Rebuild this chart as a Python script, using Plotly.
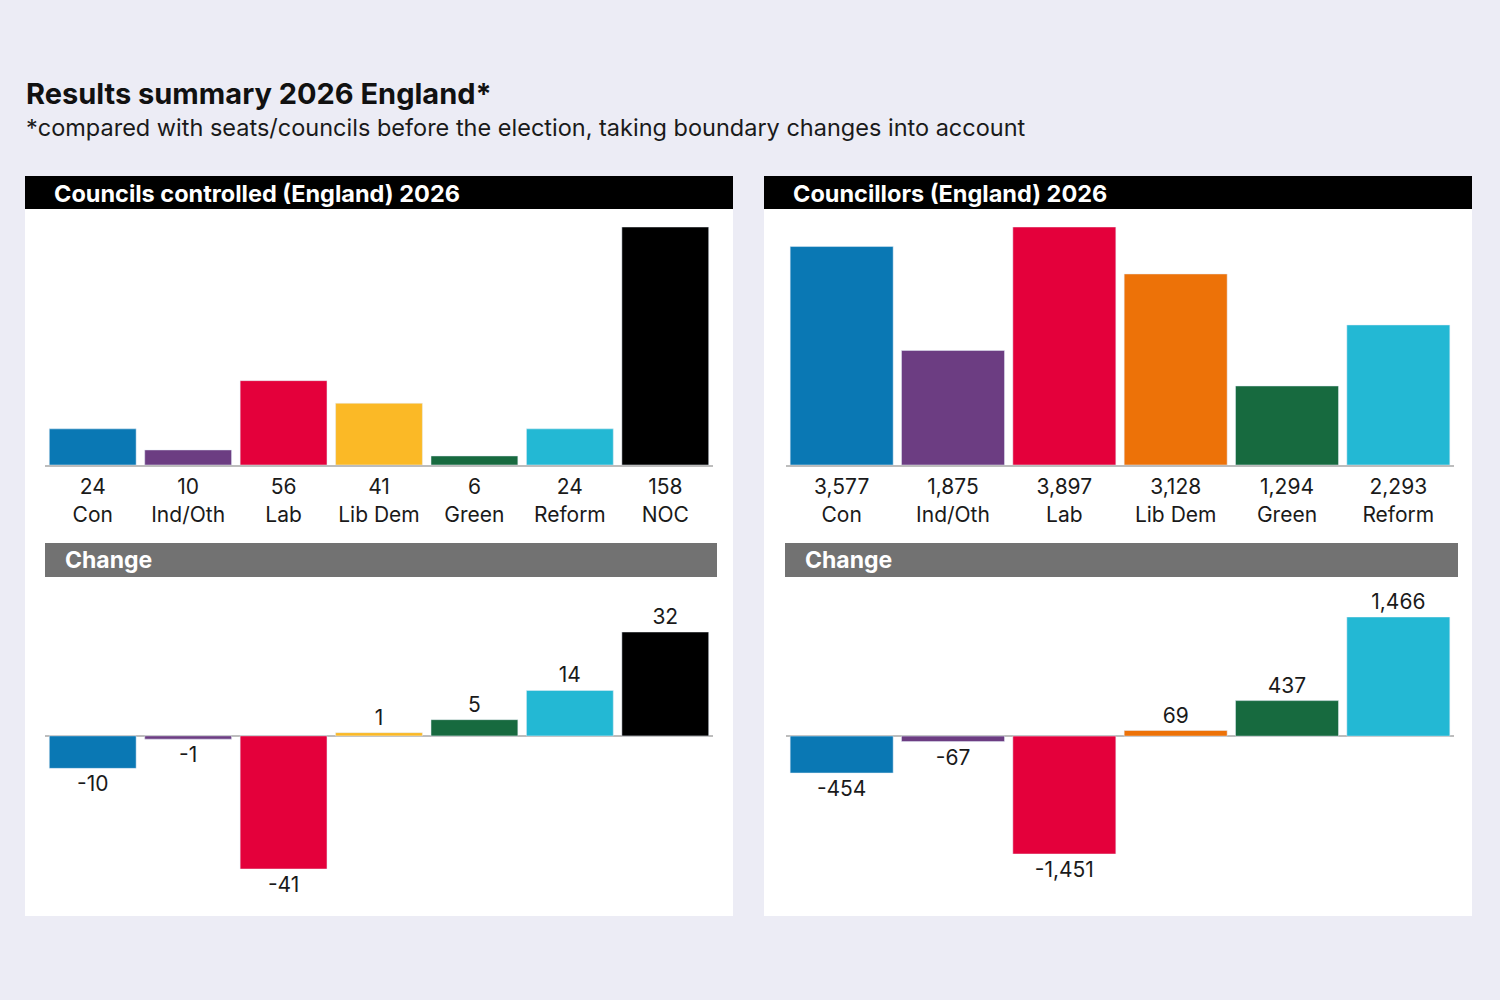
import plotly.graph_objects as go

# ---------------- data ----------------
council_parties = ["Con", "Ind/Oth", "Lab", "Lib Dem", "Green", "Reform", "NOC"]
council_totals = [24, 10, 56, 41, 6, 24, 158]
council_change = [-10, -1, -41, 1, 5, 14, 32]
council_colors = ["#0A78B4", "#6C3D82", "#E4003B", "#FBB926", "#176A3F", "#23B8D4", "#000000"]

cllr_parties = ["Con", "Ind/Oth", "Lab", "Lib Dem", "Green", "Reform"]
cllr_totals = [3577, 1875, 3897, 3128, 1294, 2293]
cllr_change = [-454, -67, -1451, 69, 437, 1466]
cllr_colors = ["#0A78B4", "#6C3D82", "#E4003B", "#ED7208", "#176A3F", "#23B8D4"]

title = "Results summary 2026 England*"
subtitle = "*compared with seats/councils before the election, taking boundary changes into account"
left_header = "Councils controlled (England) 2026"
right_header = "Councillors (England) 2026"
change_label = "Change"

FONT = "Inter"
W, H = 1500, 1000
BG = "#ECECF5"
AXIS_GREY = "#BDBDBD"


def px_x(x):
    return x / W


def px_y(y):
    return 1 - y / H


def fmt(v):
    return f"{v:,}"


fig = go.Figure()

# top-left: councils
fig.add_trace(go.Bar(x=council_parties, y=council_totals, marker_color=council_colors,
                     width=0.91, xaxis="x", yaxis="y", hoverinfo="skip"))
# bottom-left: councils change
fig.add_trace(go.Bar(x=council_parties, y=council_change, marker_color=council_colors,
                     width=0.91, xaxis="x2", yaxis="y2",
                     text=[fmt(v) for v in council_change], textposition="outside",
                     cliponaxis=False, constraintext="none",
                     textfont=dict(family=FONT, size=21, color="#1a1a1a"), hoverinfo="skip"))
# top-right: councillors
fig.add_trace(go.Bar(x=cllr_parties, y=cllr_totals, marker_color=cllr_colors,
                     width=0.925, xaxis="x3", yaxis="y3", hoverinfo="skip"))
# bottom-right: councillors change
fig.add_trace(go.Bar(x=cllr_parties, y=cllr_change, marker_color=cllr_colors,
                     width=0.925, xaxis="x4", yaxis="y4",
                     text=[fmt(v) for v in cllr_change], textposition="outside",
                     cliponaxis=False, constraintext="none",
                     textfont=dict(family=FONT, size=21, color="#1a1a1a"), hoverinfo="skip"))

left_dom = [px_x(45), px_x(713)]
right_dom = [px_x(786), px_x(1454)]
top_dom = [px_y(465), px_y(227)]
bl_dom = [px_y(869), px_y(632)]
br_dom = [px_y(854), px_y(617)]

tickfont = dict(family=FONT, size=21, color="#1a1a1a")


def top_x(dom, parties, totals, anchor):
    return dict(domain=dom, anchor=anchor, showgrid=False, zeroline=False,
                showline=True, linecolor=AXIS_GREY, linewidth=2,
                tickmode="array", tickvals=parties,
                ticktext=[f"{fmt(v)}<br>{p}" for p, v in zip(parties, totals)],
                ticks="", ticklabelstandoff=2, tickfont=tickfont, fixedrange=True)


def bottom_x(dom, anchor):
    return dict(domain=dom, anchor=anchor, showgrid=False, zeroline=False,
                showline=False, showticklabels=False, ticks="", fixedrange=True)


fig.update_layout(
    width=W, height=H,
    margin=dict(l=0, r=0, t=0, b=0),
    paper_bgcolor=BG, plot_bgcolor="rgba(0,0,0,0)",
    showlegend=False,
    font=dict(family=FONT, color="#1a1a1a"),
    xaxis=top_x(left_dom, council_parties, council_totals, "y"),
    yaxis=dict(domain=top_dom, anchor="x", range=[0, max(council_totals)],
               visible=False, fixedrange=True),
    xaxis2=bottom_x(left_dom, "y2"),
    yaxis2=dict(domain=bl_dom, anchor="x2", range=[min(council_change), max(council_change)],
                showgrid=False, showticklabels=False, zeroline=True,
                zerolinecolor=AXIS_GREY, zerolinewidth=2, fixedrange=True),
    xaxis3=top_x(right_dom, cllr_parties, cllr_totals, "y3"),
    yaxis3=dict(domain=top_dom, anchor="x3", range=[0, max(cllr_totals)],
                visible=False, fixedrange=True),
    xaxis4=bottom_x(right_dom, "y4"),
    yaxis4=dict(domain=br_dom, anchor="x4", range=[min(cllr_change), max(cllr_change)],
                showgrid=False, showticklabels=False, zeroline=True,
                zerolinecolor=AXIS_GREY, zerolinewidth=2, fixedrange=True),
)

shapes = []
annotations = []

# panels
for (x0, x1, hdr) in [(25, 733, left_header), (764, 1472, right_header)]:
    shapes.append(dict(type="rect", xref="paper", yref="paper", layer="below",
                       x0=px_x(x0), x1=px_x(x1), y0=px_y(916), y1=px_y(209),
                       fillcolor="white", line=dict(width=0)))
    shapes.append(dict(type="rect", xref="paper", yref="paper", layer="below",
                       x0=px_x(x0), x1=px_x(x1), y0=px_y(209), y1=px_y(176),
                       fillcolor="black", line=dict(width=0)))
    annotations.append(dict(text=f"<b>{hdr}</b>", xref="paper", yref="paper",
                            x=px_x(x0 + 27), y=px_y(193), xanchor="left", yanchor="middle",
                            showarrow=False, font=dict(family=FONT, size=23.5, color="white")))

# change bars
for (x0, x1) in [(45, 717), (785, 1458)]:
    shapes.append(dict(type="rect", xref="paper", yref="paper", layer="below",
                       x0=px_x(x0), x1=px_x(x1), y0=px_y(577), y1=px_y(543),
                       fillcolor="#727272", line=dict(width=0)))
    annotations.append(dict(text=f"<b>{change_label}</b>", xref="paper", yref="paper",
                            x=px_x(x0 + 18), y=px_y(560), xanchor="left", yanchor="middle",
                            showarrow=False, font=dict(family=FONT, size=23, color="white")))

annotations.append(dict(text=f"<b>{title}</b>", xref="paper", yref="paper",
                        x=px_x(24), y=px_y(94), xanchor="left", yanchor="middle",
                        showarrow=False, font=dict(family=FONT, size=29, color="#111111")))
annotations.append(dict(text=subtitle, xref="paper", yref="paper",
                        x=px_x(24), y=px_y(127), xanchor="left", yanchor="middle",
                        showarrow=False, font=dict(family=FONT, size=23.5, color="#1a1a1a")))

fig.update_layout(shapes=shapes, annotations=annotations)

fig.write_html("out.html")
